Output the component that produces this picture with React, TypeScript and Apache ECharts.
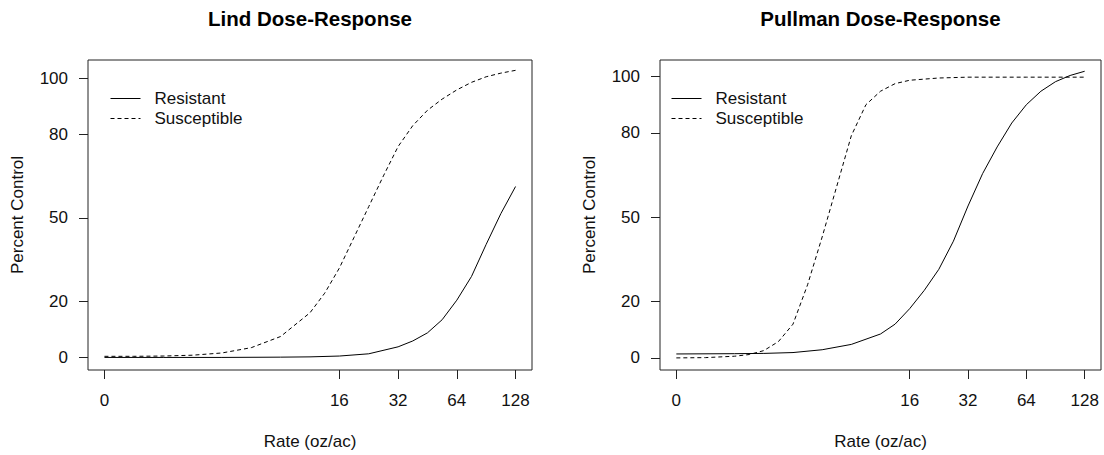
import React, { useEffect, useRef } from 'react';
import * as echarts from 'echarts';

// x positions are log2(rate); rate 0 is drawn at position 0 (same as rate 1)
const xTickPos = [0, 4, 5, 6, 7];
const xTickLabels = ['0', '16', '32', '64', '128'];
const yTicks = [0, 20, 50, 80, 100];

const panelTitles = ['Lind Dose-Response', 'Pullman Dose-Response'];
const seriesNames = ['Resistant', 'Susceptible'];

// Lind
const lindResX = [0, 1, 2, 3, 3.5, 4, 4.5, 5, 5.25, 5.5, 5.75, 6, 6.25, 6.5, 6.75, 7];
const lindResY = [0, 0, 0, 0.1, 0.2, 0.5, 1.3, 3.8, 5.9, 8.8, 13.5, 20.5, 29, 40.5, 51.5, 61.2];
const lindSusX = [0, 0.5, 1, 1.5, 2, 2.5, 3, 3.5, 3.75, 4, 4.25, 4.5, 4.75, 5, 5.25, 5.5, 5.75, 6, 6.25, 6.5, 6.75, 7];
const lindSusY = [0.4, 0.4, 0.5, 0.8, 1.6, 3.5, 7.5, 16, 23, 32, 43, 54, 65, 75.5, 83, 88.5, 92.5, 95.8, 98.5, 100.5, 101.8, 102.8];

// Pullman
const pullResX = [0, 1, 1.5, 2, 2.5, 3, 3.5, 3.75, 4, 4.25, 4.5, 4.75, 5, 5.25, 5.5, 5.75, 6, 6.25, 6.5, 6.75, 7];
const pullResY = [1.4, 1.5, 1.6, 1.9, 2.9, 4.8, 8.5, 12, 17.5, 24, 31.5, 41.5, 54, 65.5, 75, 83.5, 90, 94.8, 98.2, 100.4, 101.9];
const pullSusX = [0, 0.5, 1, 1.25, 1.5, 1.75, 2, 2.25, 2.5, 2.75, 3, 3.25, 3.5, 3.75, 4, 4.5, 5, 6, 7];
const pullSusY = [0, 0.1, 0.6, 1.2, 2.6, 5.8, 12, 26, 43, 61, 79, 90, 94.8, 97.5, 98.7, 99.5, 99.8, 99.8, 99.8];

const FONT = "'Liberation Sans', Arial, Helvetica, sans-serif";
const INK = '#111';
const TXT = 17;

const pairs = (xs: number[], ys: number[]) => xs.map((x, i) => [x, ys[i]]);

function makeX(gridIndex: number) {
  return {
    type: 'value',
    gridIndex,
    min: -0.28,
    max: 7.28,
    axisLine: { show: false, onZero: false },
    splitLine: { show: false },
    axisTick: { show: true, inside: false, length: 9, customValues: xTickPos, lineStyle: { color: '#222', width: 1 } },
    axisLabel: {
      customValues: xTickPos,
      formatter: (v: number) => {
        const i = xTickPos.indexOf(v);
        return i >= 0 ? xTickLabels[i] : '';
      },
      margin: 22,
      fontSize: TXT,
      color: INK,
      fontFamily: FONT,
    },
    name: 'Rate (oz/ac)',
    nameLocation: 'middle',
    nameGap: 63,
    nameTextStyle: { fontSize: TXT, color: INK, fontFamily: FONT },
  };
}

function makeY(gridIndex: number, min: number, max: number) {
  return {
    type: 'value',
    gridIndex,
    min,
    max,
    axisLine: { show: false, onZero: false },
    splitLine: { show: false },
    axisTick: { show: true, inside: false, length: 9, customValues: yTicks, lineStyle: { color: '#222', width: 1 } },
    axisLabel: {
      customValues: yTicks,
      margin: 20,
      fontSize: TXT,
      color: INK,
      fontFamily: FONT,
    },
    name: 'Percent Control',
    nameLocation: 'middle',
    nameGap: 62,
    nameTextStyle: { fontSize: TXT, color: INK, fontFamily: FONT },
  };
}

function lineSeries(name: string, gi: number, data: number[][], dashed: boolean) {
  return {
    type: 'line',
    name,
    xAxisIndex: gi,
    yAxisIndex: gi,
    data,
    symbol: 'none',
    smooth: false,
    lineStyle: { color: '#000', width: 1, type: dashed ? [4, 3] : 'solid' },
    itemStyle: { color: '#000' },
  };
}

function makeLegend(left: number) {
  return {
    data: seriesNames,
    orient: 'vertical',
    left,
    top: 90,
    itemWidth: 30,
    itemHeight: 14,
    itemGap: 3,
    padding: 0,
    selectedMode: false,
    itemStyle: { opacity: 0, borderWidth: 0 },
    lineStyle: { width: 1 },
    textStyle: { fontSize: TXT, color: INK, fontFamily: FONT, padding: [0, 0, 0, 9] },
  };
}

export default function App() {
  const ref = useRef<HTMLDivElement>(null);
  useEffect(() => {
    if (!ref.current) return;
    const chart = echarts.init(ref.current, null, { renderer: 'svg' });
    const titleStyle = { fontSize: 20.5, fontWeight: 'bold', fontFamily: FONT, fill: '#000', align: 'center', verticalAlign: 'middle' };
    const option: any = {
      animation: false,
      backgroundColor: '#fff',
      grid: [
        { left: 88, top: 60, width: 444, height: 311, show: true, borderColor: '#222', borderWidth: 1 },
        { left: 660, top: 60, width: 441, height: 310, show: true, borderColor: '#222', borderWidth: 1 },
      ],
      xAxis: [makeX(0), makeX(1)],
      yAxis: [makeY(0, -4.5, 106.5), makeY(1, -4.3, 105.9)],
      legend: [makeLegend(110), makeLegend(671)],
      graphic: [
        { type: 'text', x: 310, y: 18, style: { ...titleStyle, text: panelTitles[0] } },
        { type: 'text', x: 880.5, y: 18, style: { ...titleStyle, text: panelTitles[1] } },
      ],
      series: [
        lineSeries(seriesNames[0], 0, pairs(lindResX, lindResY), false),
        lineSeries(seriesNames[1], 0, pairs(lindSusX, lindSusY), true),
        lineSeries(seriesNames[0], 1, pairs(pullResX, pullResY), false),
        lineSeries(seriesNames[1], 1, pairs(pullSusX, pullSusY), true),
      ],
    };
    chart.setOption(option);
    return () => chart.dispose();
  }, []);
  return <div ref={ref} style={{ position: 'absolute', left: 0, top: 0, width: 1104, height: 455 }} />;
}
